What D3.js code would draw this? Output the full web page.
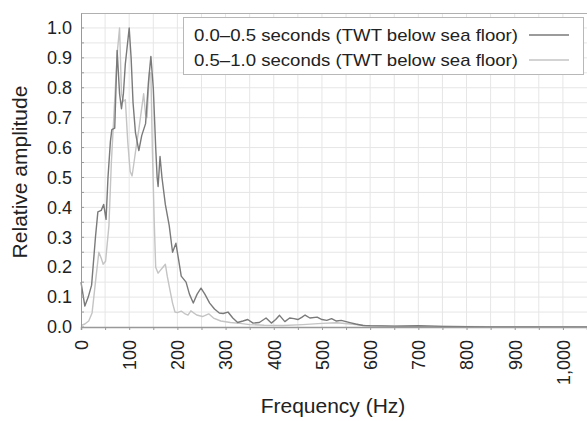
<!DOCTYPE html>
<html>
<head>
<meta charset="utf-8">
<script src="https://cdn.jsdelivr.net/npm/d3@7"></script>
<style>
	body { margin: 0; background: #fff; }
	text { font-family: "Liberation Sans", Arial, Helvetica, sans-serif; fill: #222; }
</style>
</head>
<body>
<div id="chart"></div>
<script>
// frequency (Hz) / relative amplitude
const freqShallow = [0, 3, 8, 15, 22, 30, 35, 42, 47, 52, 56, 61, 64, 70, 75, 80, 84, 88, 92, 100, 104, 108, 113, 120, 126, 134, 140, 145, 150, 155, 158, 160, 164, 168, 175, 183, 190, 197, 203, 208, 218, 225, 233, 241, 249, 257, 267, 277, 287, 295, 305, 315, 325, 336, 346, 357, 370, 384, 395, 404, 412, 423, 433, 442, 450, 458, 465, 475, 490, 500, 510, 520, 530, 540, 550, 560, 570, 585, 600, 650, 700, 750, 800, 850, 1050];
const ampShallow = [0.15, 0.12, 0.07, 0.10, 0.14, 0.30, 0.385, 0.39, 0.41, 0.36, 0.50, 0.62, 0.66, 0.665, 0.925, 0.78, 0.73, 0.78, 0.88, 1.0, 0.90, 0.75, 0.65, 0.59, 0.64, 0.68, 0.82, 0.905, 0.80, 0.60, 0.50, 0.47, 0.57, 0.50, 0.41, 0.34, 0.25, 0.28, 0.22, 0.17, 0.15, 0.11, 0.08, 0.11, 0.13, 0.11, 0.08, 0.06, 0.047, 0.045, 0.05, 0.03, 0.015, 0.02, 0.025, 0.013, 0.015, 0.03, 0.013, 0.025, 0.039, 0.018, 0.03, 0.028, 0.025, 0.032, 0.04, 0.03, 0.033, 0.025, 0.022, 0.028, 0.02, 0.022, 0.018, 0.014, 0.01, 0.005, 0.004, 0.003, 0.004, 0.002, 0.001, 0, 0];

const freqDeep = [0, 8, 16, 23, 30, 37, 42, 46, 51, 58, 63, 68, 72, 76, 80, 84, 88, 92, 97, 102, 106, 110, 116, 120, 125, 130, 134, 137, 142, 145, 148, 152, 155, 160, 165, 170, 175, 179, 185, 190, 195, 200, 208, 215, 222, 228, 240, 252, 265, 275, 290, 310, 330, 350, 380, 420, 460, 500, 530, 560, 590, 650, 750, 850, 1050];
const ampDeep = [0.005, 0.01, 0.02, 0.047, 0.15, 0.25, 0.23, 0.21, 0.22, 0.34, 0.55, 0.70, 0.82, 0.93, 1.0, 0.78, 0.755, 0.76, 0.62, 0.52, 0.505, 0.55, 0.62, 0.66, 0.72, 0.78, 0.71, 0.70, 0.85, 0.85, 0.60, 0.35, 0.20, 0.18, 0.19, 0.20, 0.21, 0.17, 0.12, 0.08, 0.05, 0.048, 0.053, 0.045, 0.04, 0.054, 0.04, 0.035, 0.044, 0.03, 0.02, 0.015, 0.012, 0.008, 0.006, 0.005, 0.008, 0.012, 0.014, 0.01, 0.005, 0.003, 0.002, 0.001, 0];

const seriesNames = ["0.0\u20130.5 seconds (TWT below sea floor)", "0.5\u20131.0 seconds (TWT below sea floor)"];
const seriesColors = ["#7a7a7a", "#c4c4c4"];
const xTicks = [0, 100, 200, 300, 400, 500, 600, 700, 800, 900, 1000];
const yTicks = [0, 0.1, 0.2, 0.3, 0.4, 0.5, 0.6, 0.7, 0.8, 0.9, 1.0];

const width = 587, height = 421;
const margin = {top: 13, right: 0, bottom: 94, left: 81};
const innerW = width - margin.left - margin.right;
const innerH = height - margin.top - margin.bottom;

const svg = d3.select("#chart").append("svg")
	.attr("width", width)
	.attr("height", height);

const g = svg.append("g")
	.attr("transform", "translate(" + margin.left + "," + margin.top + ")");

const x = d3.scaleLinear().domain([0, 1050]).range([0, innerW]);
const y = d3.scaleLinear().domain([0, 1.05]).range([innerH, 0]);

// grid every 50 Hz and every 0.05
g.append("g").selectAll("line")
	.data(d3.range(50, 1050, 50))
	.enter().append("line")
	.attr("x1", d => x(d)).attr("x2", d => x(d))
	.attr("y1", 0).attr("y2", innerH)
	.attr("stroke", "#e6e6e6");
g.append("g").selectAll("line")
	.data(d3.range(1, 21).map(d => d * 0.05))
	.enter().append("line")
	.attr("x1", 0).attr("x2", innerW)
	.attr("y1", d => y(d)).attr("y2", d => y(d))
	.attr("stroke", "#e6e6e6");

// top frame
g.append("line")
	.attr("x1", 0).attr("x2", innerW)
	.attr("y1", 0.5).attr("y2", 0.5)
	.attr("stroke", "#b0b0b0");

// lines
const line = d3.line()
	.x(d => x(d[0]))
	.y(d => y(d[1]));

const series = [
	d3.zip(freqShallow, ampShallow),
	d3.zip(freqDeep, ampDeep)
];

// draw the light one first so the dark sits on top
[1, 0].forEach(function(i) {
	g.append("path")
		.datum(series[i])
		.attr("d", line)
		.attr("fill", "none")
		.attr("stroke", seriesColors[i])
		.attr("stroke-width", 1.4)
		.attr("stroke-linejoin", "round");
});

// y axis
const yAxis = g.append("g")
	.call(d3.axisLeft(y).tickValues(yTicks).tickFormat(d3.format(".1f")).tickSize(0).tickPadding(9));
yAxis.select(".domain").attr("stroke", "#999");
yAxis.selectAll("text").attr("font-size", "18px").attr("font-family", null);
g.append("g").selectAll("line")
	.data(d3.range(0, 21).map(d => d * 0.05))
	.enter().append("line")
	.attr("x1", 0).attr("x2", 3)
	.attr("y1", d => y(d)).attr("y2", d => y(d))
	.attr("stroke", "#999");

// x axis
const xAxis = g.append("g")
	.attr("transform", "translate(0," + innerH + ")")
	.call(d3.axisBottom(x).tickValues(d3.range(0, 1051, 50)).tickFormat(d => xTicks.includes(d) ? d3.format(",")(d) : "").tickSize(3));
xAxis.select(".domain").attr("stroke", "#999").attr("stroke-width", 1.5);
xAxis.selectAll("line").attr("stroke", "#999");
xAxis.selectAll("text")
	.attr("font-size", "18px")
	.attr("font-family", null)
	.attr("transform", "rotate(-90)")
	.attr("text-anchor", "end")
	.attr("x", -13)
	.attr("y", 0)
	.attr("dy", "0.35em");

// axis titles
svg.append("text")
	.attr("x", 333)
	.attr("y", 413)
	.attr("text-anchor", "middle")
	.attr("font-size", "21px")
	.text("Frequency (Hz)");

svg.append("text")
	.attr("transform", "translate(27,172) rotate(-90)")
	.attr("text-anchor", "middle")
	.attr("font-size", "21px")
	.text("Relative amplitude");

// legend
const legend = svg.append("g");
legend.append("rect")
	.attr("x", 183.5).attr("y", 17.5)
	.attr("width", 400).attr("height", 57)
	.attr("fill", "#fff")
	.attr("stroke", "#b8b8b8");

seriesNames.forEach(function(name, i) {
	const ly = 35 + i * 25;
	legend.append("text")
		.attr("x", 194)
		.attr("y", ly)
		.attr("dy", "0.35em")
		.attr("font-size", "17px")
		.attr("textLength", 324)
		.attr("lengthAdjust", "spacingAndGlyphs")
		.text(name);
	legend.append("line")
		.attr("x1", 529).attr("x2", 569)
		.attr("y1", ly).attr("y2", ly)
		.attr("stroke", seriesColors[i])
		.attr("stroke-width", 1.6);
});
</script>
</body>
</html>
